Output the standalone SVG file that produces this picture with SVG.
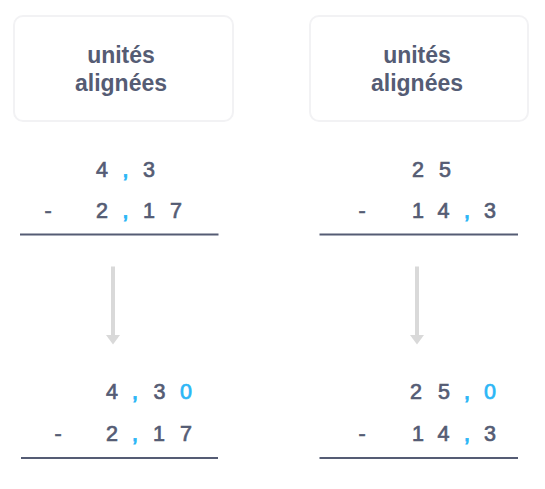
<svg xmlns="http://www.w3.org/2000/svg" width="545" height="489" viewBox="0 0 545 489">
<style>
.box{fill:#ffffff;stroke:#f2f2f4;stroke-width:2}
.lbl{font-family:"Liberation Sans",Arial,sans-serif;font-weight:bold;font-size:23px;fill:#555c74;text-anchor:middle}
.n{font-family:"Liberation Sans",Arial,sans-serif;font-size:21.5px;fill:#555c74;stroke:#555c74;stroke-width:0.7;text-anchor:middle}
.b{fill:#2bb6f6;stroke:#2bb6f6}
.c{font-size:23px;stroke-width:0.9}
.rule{stroke:#555c74;stroke-width:2.2}
.arr{stroke:#d9d9d9;stroke-width:4;fill:none}
</style>
<defs>
<marker id="ah" markerUnits="userSpaceOnUse" markerWidth="10" markerHeight="14" refX="0" refY="7" orient="auto">
<path d="M0,0 L9.5,7 L0,14 z" fill="#d9d9d9"/>
</marker>
</defs>
<g id="box-left">
<rect class="box" x="14" y="16" width="219" height="105" rx="9"/>
<text class="lbl" x="121" y="63">unités</text>
<text class="lbl" x="121" y="91">alignées</text>
</g>
<g id="box-right">
<rect class="box" x="310" y="16" width="218" height="105" rx="9"/>
<text class="lbl" x="417" y="63">unités</text>
<text class="lbl" x="417" y="91">alignées</text>
</g>
<g id="calc-left-top">
<text class="n" x="102" y="177">4</text>
<text class="n b c" x="125.5" y="177">,</text>
<text class="n" x="149" y="177">3</text>
<text class="n" x="48" y="218">-</text>
<text class="n" x="102" y="218">2</text>
<text class="n b c" x="125.5" y="218">,</text>
<text class="n" x="149" y="218">1</text>
<text class="n" x="176" y="218">7</text>
<line class="rule" x1="20" y1="234.5" x2="218.5" y2="234.5"/>
</g>
<g id="calc-right-top">
<text class="n" x="418" y="177">2</text>
<text class="n" x="445" y="177">5</text>
<text class="n" x="362" y="218">-</text>
<text class="n" x="418" y="218">1</text>
<text class="n" x="443.5" y="218">4</text>
<text class="n b c" x="467" y="218">,</text>
<text class="n" x="490" y="218">3</text>
<line class="rule" x1="319.5" y1="234.5" x2="518" y2="234.5"/>
</g>
<g id="calc-left-bottom">
<text class="n" x="112" y="399">4</text>
<text class="n b c" x="135" y="399">,</text>
<text class="n" x="159.5" y="399">3</text>
<text class="n b" x="186" y="399">0</text>
<text class="n" x="58" y="441">-</text>
<text class="n" x="112" y="441">2</text>
<text class="n b c" x="135" y="441">,</text>
<text class="n" x="159" y="441">1</text>
<text class="n" x="186" y="441">7</text>
<line class="rule" x1="21" y1="458" x2="218" y2="458"/>
</g>
<g id="calc-right-bottom">
<text class="n" x="416" y="399">2</text>
<text class="n" x="444" y="399">5</text>
<text class="n b c" x="467" y="399">,</text>
<text class="n b" x="490" y="399">0</text>
<text class="n" x="362" y="441">-</text>
<text class="n" x="418" y="441">1</text>
<text class="n" x="443.5" y="441">4</text>
<text class="n b c" x="467" y="441">,</text>
<text class="n" x="490" y="441">3</text>
<line class="rule" x1="319.5" y1="458" x2="518" y2="458"/>
</g>
<g id="connectors">
<line class="arr" x1="113" y1="266.5" x2="113" y2="335" marker-end="url(#ah)"/>
<line class="arr" x1="417" y1="266.5" x2="417" y2="335" marker-end="url(#ah)"/>
</g>
</svg>
